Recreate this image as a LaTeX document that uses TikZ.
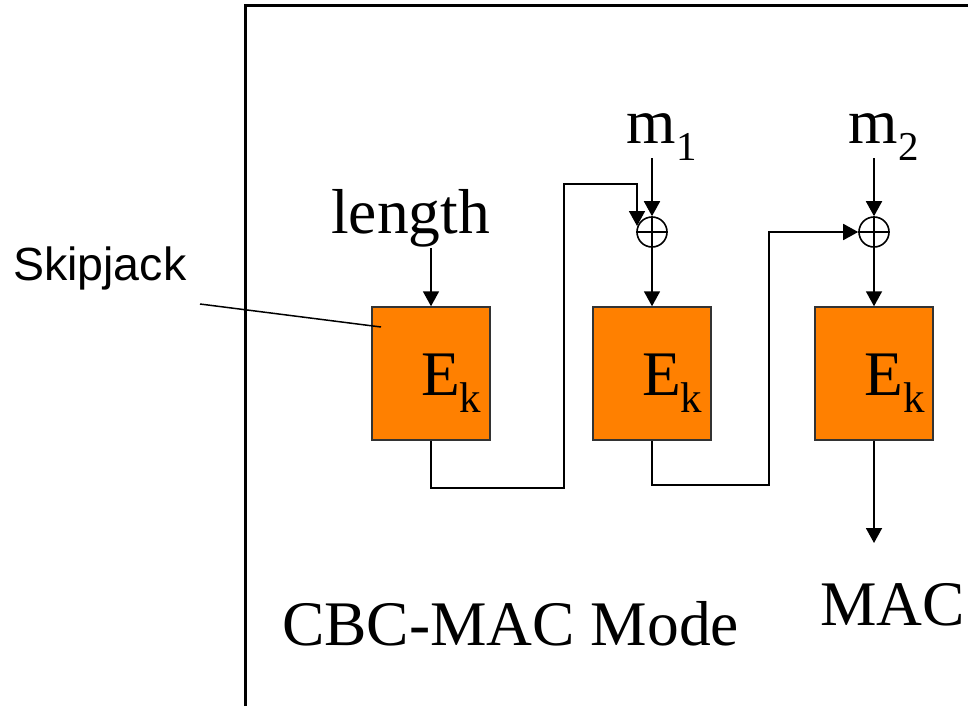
\documentclass[tikz,border=0pt]{standalone}
\usepackage{fontspec}
\setmainfont{Liberation Serif}
\newfontfamily\arialf{Liberation Sans}
\usetikzlibrary{arrows.meta}
\definecolor{blockorange}{HTML}{FF8000}
\begin{document}
\begin{tikzpicture}[x=1pt,y=-1pt,
  blockbox/.style={draw=black!80, line width=1.5pt, fill=blockorange, minimum width=118pt, minimum height=133pt, inner sep=0pt},
  xorc/.style={circle, draw, line width=1.6pt, minimum size=30pt, inner sep=0pt},
  conn/.style={line width=1.8pt},
  arr/.style={conn, -{Triangle[length=15pt,width=16pt]}},
  big/.style={inner sep=0pt, anchor=base west, font=\fontsize{63.5}{70}\selectfont},
  sans/.style={inner sep=0pt, anchor=base west, font=\arialf\fontsize{46.5}{50}\selectfont},
]
\useasboundingbox (0,0) rectangle (968,706);
% frame
\draw[line width=3pt] (245,706) -- (245,6) -- (968,6);

% blocks
\node[blockbox] (b1) at (431,373.5) {};
\node[blockbox] (b2) at (652,373.5) {};
\node[blockbox] (b3) at (874,373.5) {};
\node[big] (e1) at (421,395) {E\raisebox{-17pt}{\fontsize{43}{43}\selectfont k}};
\node[big] (e2) at (642,395) {E\raisebox{-17pt}{\fontsize{43}{43}\selectfont k}};
\node[big] (e3) at (864,395) {E\raisebox{-17pt}{\fontsize{43}{43}\selectfont k}};

% xors
\node[xorc] (x1) at (652,232) {};
\node[xorc] (x2) at (874,232) {};
\draw[line width=1.6pt] (x1.north) -- (x1.south) (x1.west) -- (x1.east);
\draw[line width=1.6pt] (x2.north) -- (x2.south) (x2.west) -- (x2.east);

% texts
\node[big] (len) at (331,233) {length};
\node[big] (m1) at (626,143) {m\hspace{1pt}\raisebox{-17pt}{\fontsize{41}{41}\selectfont 1}};
\node[big] (m2) at (848,143) {m\hspace{1pt}\raisebox{-17pt}{\fontsize{41}{41}\selectfont 2}};
\node[big] (cbc) at (282,645) {CBC-MAC Mode};
\node[big] (mac) at (820,625) {MAC};
\node[sans] (skj) at (13,280) {Skipjack};

% coordinates
\coordinate (lentop) at (431,248);
\coordinate (m1top) at (652,158);
\coordinate (m2top) at (874,158);
\coordinate (f1a) at (564,488);
\coordinate (f1b) at (637,184);
\coordinate (f1tip) at (637,226);
\coordinate (f2a) at (769,485);
\coordinate (macarrow) at (874,543);
\coordinate (sp1) at (200,304);
\coordinate (sp2) at (381,327);

% connectors
\draw[arr] (lentop) -- (b1.north);
\draw[arr] (m1top) -- (x1.north);
\draw[arr] (m2top) -- (x2.north);
\draw[arr] (x1.south) -- (b2.north);
\draw[arr] (x2.south) -- (b3.north);
\draw[arr] (b1.south) |- (f1a) |- (f1b) -- (f1tip);
\draw[arr] (b2.south) |- (f2a) |- (x2.west);
\draw[arr] (b3.south) -- (macarrow);
\draw[line width=1.5pt] (sp1) -- (sp2);
\end{tikzpicture}
\end{document}
